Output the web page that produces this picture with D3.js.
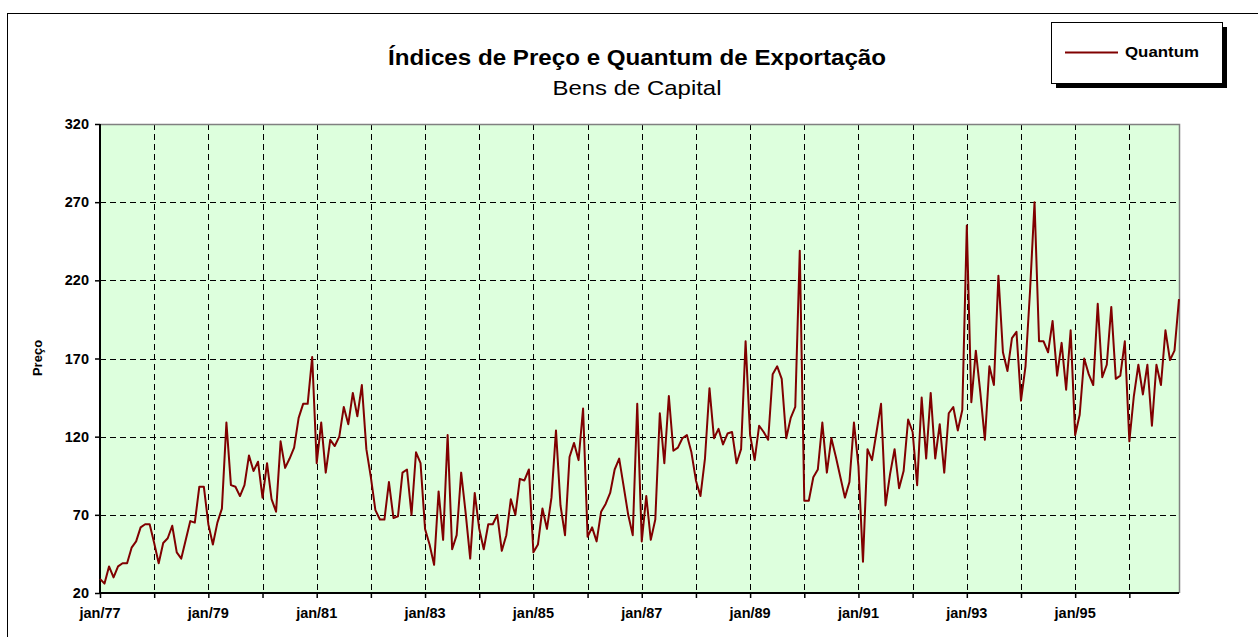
<!DOCTYPE html>
<html>
<head>
<meta charset="utf-8">
<script src="https://cdn.jsdelivr.net/npm/d3@7"></script>
<style>
  body { margin: 0; background: #fff; }
  svg text { font-family: Arial, "Liberation Sans", sans-serif; }
</style>
</head>
<body>
<div id="chart"></div>
<script>
// monthly Quantum index, jan/77 .. dec/96
const startYear = 1977;
const quantum = [
  29, 26, 37, 30, 37, 39, 39, 49, 53, 62, 64, 64,        // 1977
  52, 39, 52, 55, 63, 46, 42, 54, 66, 65, 88, 88,        // 1978
  64, 51, 65, 74, 129, 89, 88, 82, 89, 108, 98, 104,     // 1979
  81, 103, 80, 72, 117, 100, 106, 113, 132, 141, 141, 171, // 1980
  103, 129, 97, 118, 114, 120, 139, 128, 148, 133, 153, 112, // 1981
  94, 73, 67, 67, 91, 68, 69, 97, 99, 70, 110, 103,      // 1982
  61, 51, 38, 85, 54, 121, 48, 57, 97, 71, 42, 84,       // 1983
  61, 48, 64, 64, 70, 47, 57, 80, 70, 93, 92, 99,        // 1984
  46, 51, 74, 61, 81, 124, 76, 57, 107, 116, 105, 138,   // 1985
  56, 62, 53, 72, 77, 84, 99, 106, 88, 70, 57, 141,      // 1986
  53, 82, 54, 67, 135, 103, 146, 111, 113, 119, 121, 110, // 1987
  92, 82, 106, 151, 119, 125, 115, 122, 123, 103, 112, 181, // 1988
  121, 105, 127, 123, 118, 160, 165, 157, 119, 132, 139, 239, // 1989
  79, 79, 94, 99, 129, 97, 119, 107, 94, 81, 91, 129,    // 1990
  101, 40, 112, 105, 123, 141, 76, 96, 112, 87, 98, 131, // 1991
  123, 89, 145, 106, 148, 106, 128, 97, 135, 139, 124, 137, // 1992
  255, 142, 175, 148, 118, 165, 153, 223, 174, 162, 183, 187, // 1993
  143, 165, 213, 270, 181, 181, 174, 194, 159, 180, 150, 188, // 1994
  121, 134, 170, 160, 153, 205, 158, 166, 203, 157, 159, 181, // 1995
  117, 146, 166, 147, 166, 127, 166, 153, 188, 169, 175, 208  // 1996
];
const yTicks = [20, 70, 120, 170, 220, 270, 320];
const labelYears = [1977, 1979, 1981, 1983, 1985, 1987, 1989, 1991, 1993, 1995];

const width = 1258, height = 637;
const plot = { left: 100, top: 124, right: 1179, bottom: 593 };

const svg = d3.select("#chart").append("svg")
  .attr("width", width)
  .attr("height", height);

// outer chart frame
svg.append("rect")
  .attr("x", 7.5).attr("y", 13.5)
  .attr("width", 1262).attr("height", 640)
  .attr("fill", "#fff").attr("stroke", "#000").attr("stroke-width", 1);

const x = d3.scaleLinear()
  .domain([0, quantum.length - 1])
  .range([plot.left, plot.right]);

const y = d3.scaleLinear()
  .domain([20, 320])
  .range([plot.bottom, plot.top]);

// plot background
svg.append("rect")
  .attr("x", plot.left).attr("y", plot.top)
  .attr("width", plot.right - plot.left)
  .attr("height", plot.bottom - plot.top)
  .attr("fill", "#ddffdd");

// grid
const years = d3.range(0, 20).map(i => i * 12);
svg.append("g")
  .selectAll("line")
  .data(years.filter(m => m > 0))
  .join("line")
  .attr("x1", d => Math.round(x(d)) + 0.5).attr("x2", d => Math.round(x(d)) + 0.5)
  .attr("y1", plot.top).attr("y2", plot.bottom)
  .attr("stroke", "#000").attr("stroke-dasharray", "6,4");

svg.append("g")
  .selectAll("line")
  .data(yTicks.filter(v => v > 20 && v < 320))
  .join("line")
  .attr("x1", plot.left).attr("x2", plot.right)
  .attr("y1", d => Math.round(y(d)) + 0.5).attr("y2", d => Math.round(y(d)) + 0.5)
  .attr("stroke", "#000").attr("stroke-dasharray", "6,4");

// top/right border
svg.append("path")
  .attr("d", `M${plot.left},${plot.top + 0.5}H${plot.right + 0.5}V${plot.bottom}`)
  .attr("fill", "none").attr("stroke", "#808080").attr("stroke-width", 1.5);

// axes
const xAxis = d3.axisBottom(x)
  .tickValues(years)
  .tickSize(5)
  .tickFormat("");
svg.append("g")
  .attr("transform", `translate(0,${plot.bottom})`)
  .call(xAxis)
  .call(g => g.select(".domain").attr("stroke-width", 2).attr("d", `M${plot.left},0H${plot.right}`))
  .call(g => g.selectAll(".tick line").attr("stroke-width", 1.5).attr("y1", -1));

svg.append("g")
  .selectAll("text")
  .data(labelYears)
  .join("text")
  .attr("x", d => x((d - startYear) * 12))
  .attr("y", 618)
  .attr("text-anchor", "middle")
  .attr("font-size", 14.5)
  .attr("font-weight", "bold")
  .text(d => "jan/" + String(d).slice(2));

const yAxis = d3.axisLeft(y)
  .tickValues(yTicks)
  .tickSize(5)
  .tickPadding(6);
svg.append("g")
  .attr("transform", `translate(${plot.left},0)`)
  .call(yAxis)
  .call(g => g.select(".domain").attr("stroke-width", 2).attr("d", `M0,${plot.top}V${plot.bottom}`))
  .call(g => g.selectAll(".tick line").attr("stroke-width", 1.5))
  .call(g => g.selectAll(".tick text")
    .attr("font-size", 14.5).attr("font-weight", "bold")
    .attr("font-family", "Arial, 'Liberation Sans', sans-serif").attr("fill", "#000"));

// series line
const line = d3.line()
  .x((d, i) => x(i))
  .y(d => y(d));
svg.append("path")
  .datum(quantum)
  .attr("d", line)
  .attr("fill", "none")
  .attr("stroke", "#800000")
  .attr("stroke-width", 2)
  .attr("stroke-linejoin", "round");

// titles
svg.append("text")
  .attr("x", 637).attr("y", 65)
  .attr("text-anchor", "middle")
  .attr("font-size", 22).attr("font-weight", "bold")
  .attr("textLength", 498).attr("lengthAdjust", "spacingAndGlyphs")
  .text("Índices de Preço e Quantum de Exportação");
svg.append("text")
  .attr("x", 637).attr("y", 95)
  .attr("text-anchor", "middle")
  .attr("font-size", 21)
  .attr("textLength", 169).attr("lengthAdjust", "spacingAndGlyphs")
  .text("Bens de Capital");

svg.append("text")
  .attr("transform", "translate(42,358) rotate(-90)")
  .attr("text-anchor", "middle")
  .attr("font-size", 13).attr("font-weight", "bold")
  .text("Preço");

// legend
const lg = svg.append("g").attr("transform", "translate(1051,22)");
lg.append("rect")
  .attr("x", 5).attr("y", 5).attr("width", 171).attr("height", 61)
  .attr("fill", "#000");
lg.append("rect")
  .attr("x", 0.5).attr("y", 0.5).attr("width", 171).attr("height", 61)
  .attr("fill", "#fff").attr("stroke", "#000");
lg.append("line")
  .attr("x1", 14).attr("x2", 67).attr("y1", 30.5).attr("y2", 30.5)
  .attr("stroke", "#800000").attr("stroke-width", 2);
lg.append("text")
  .attr("x", 74).attr("y", 35)
  .attr("font-size", 14).attr("font-weight", "bold")
  .attr("textLength", 74).attr("lengthAdjust", "spacingAndGlyphs")
  .text("Quantum");
</script>
</body>
</html>
